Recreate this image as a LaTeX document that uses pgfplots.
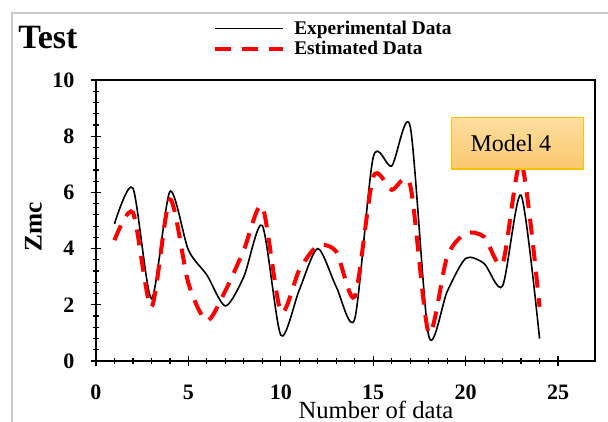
\documentclass[border=0pt]{standalone}
\usepackage{pgfplots}
\pgfplotsset{compat=1.18}
\usepackage{fontspec}
\setmainfont{Liberation Serif}
\definecolor{boxborder}{RGB}{255,192,0}
\definecolor{boxtop}{RGB}{253,222,160}
\definecolor{boxbot}{RGB}{250,200,110}
\definecolor{framegrey}{RGB}{200,200,200}
\begin{document}
\begin{tikzpicture}
\useasboundingbox (-72pt,-45.75pt) rectangle (384pt,270.75pt);
\draw[framegrey, line width=1.2pt] (-63pt,-80pt) -- (-63pt,261pt) -- (420pt,261pt);
\begin{axis}[
  at={(0pt,0pt)}, anchor=south west,
  scale only axis, width=374.25pt, height=210.75pt,
  xmin=0, xmax=27, ymin=0, ymax=10,
  xtick={0,5,...,25}, ytick={0,2,...,10},
  minor x tick num=4, minor y tick num=4,
  xtick pos=bottom, ytick pos=left,
  tick align=center,
  major tick length=8pt, minor tick length=4pt,
  axis line style={line width=1.1pt},
  every tick/.style={black, line width=0.9pt},
  /pgf/number format/assume math mode=true,
  ticklabel style={font=\fontsize{16.5}{16.5}\selectfont\bfseries},
  xticklabel style={anchor=north, inner sep=0pt, yshift=-14pt},
  yticklabel style={anchor=east, inner sep=0pt, xshift=-12pt},
  xlabel={Number of data},
  xlabel style={at={(axis description cs:0.561,0)}, anchor=center, yshift=-36.5pt, inner sep=0pt, font=\fontsize{18.5}{18.5}\selectfont},
  ylabel={Zmc},
  ylabel style={at={(axis description cs:-0.1253,0.477)}, anchor=center, rotate=0, inner sep=0pt, font=\fontsize{19}{19}\selectfont\bfseries},
  legend image code/.code={\draw[#1] (0pt,0pt) -- (51pt,0pt);},
  legend cell align=left,
  legend style={at={(0.2345,1.211)}, anchor=north west, draw=none, fill=none, inner sep=0pt,
    font=\fontsize{14.5}{14.5}\selectfont\bfseries, row sep=3.5pt,
    nodes={inner sep=0pt},
    /tikz/every odd column/.append style={column sep=6.75pt}},
]
\addplot[black, line width=1.2pt, smooth, tension=0.45] coordinates {
(1,4.88) (2,6.15) (3,2.22) (4,6.03) (5,3.95) (6,3.06) (7,1.96) (8,3.0)
(9,4.82) (10,0.92) (11,2.53) (12,4.0) (13,2.64) (14,1.5) (15,7.25) (16,6.94)
(17,8.35) (18,0.9) (19,2.47) (20,3.65) (21,3.47) (22,2.67) (23,5.9) (24,0.8)};
\addlegendentry{Experimental Data}
\addplot[red, line width=3pt, dash pattern=on 12pt off 8pt, smooth, tension=0.45] coordinates {
(1,4.3) (2,5.28) (3,1.92) (4,5.75) (5,2.77) (6,1.43) (7,2.5) (8,3.95)
(9,5.5) (10,1.75) (11,3.24) (12,4.1) (13,3.89) (14,2.29) (15,6.55) (16,6.09)
(17,6.26) (18,1.0) (19,3.71) (20,4.54) (21,4.42) (22,3.47) (23,7.1) (24,1.93)};
\addlegendentry{Estimated Data}
\node[draw=boxborder, line width=1.1pt, top color=boxtop, bottom color=boxbot,
  minimum width=98.7pt, minimum height=38.8pt, inner sep=0pt] at (axis cs:22.81,7.75) {};
\node[font=\fontsize{18}{18}\selectfont, inner sep=0pt, xshift=-5pt] at (axis cs:22.81,7.75) {Model 4};
\end{axis}
\node[anchor=base west, inner sep=0pt, font=\fontsize{25.5}{25.5}\selectfont\bfseries] at (-58.5pt,234.5pt) {Test};
\end{tikzpicture}
\end{document}
